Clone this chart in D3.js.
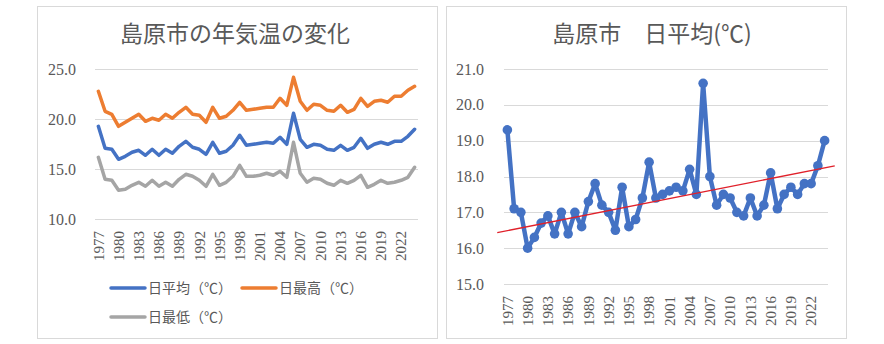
<!DOCTYPE html>
<html><head><meta charset="utf-8">
<script src="https://cdn.jsdelivr.net/npm/d3@7"></script>
<style>html,body{margin:0;padding:0;background:#fff;}svg{display:block;}</style>
</head><body>
<svg id="chart" width="884" height="344"></svg>
<script>
const years = [1977,1978,1979,1980,1981,1982,1983,1984,1985,1986,1987,1988,1989,1990,1991,1992,1993,1994,1995,1996,1997,1998,1999,2000,2001,2002,2003,2004,2005,2006,2007,2008,2009,2010,2011,2012,2013,2014,2015,2016,2017,2018,2019,2020,2021,2022,2023,2024];
const avgTemp = [19.3,17.1,17.0,16.0,16.3,16.7,16.9,16.4,17.0,16.4,17.0,16.6,17.3,17.8,17.2,17.0,16.5,17.7,16.6,16.8,17.4,18.4,17.4,17.5,17.6,17.7,17.6,18.2,17.5,20.6,18.0,17.2,17.5,17.4,17.0,16.9,17.4,16.9,17.2,18.1,17.1,17.5,17.7,17.5,17.8,17.8,18.3,19.0];
const maxTemp = [22.8,20.8,20.5,19.3,19.7,20.1,20.5,19.8,20.1,19.9,20.5,20.1,20.7,21.2,20.5,20.4,19.7,21.2,20.1,20.3,20.9,21.7,20.9,21.0,21.1,21.2,21.2,22.1,21.4,24.2,21.8,20.9,21.5,21.4,20.9,20.8,21.4,20.7,21.0,22.1,21.3,21.8,21.9,21.7,22.3,22.3,22.9,23.3];
const minTemp = [16.2,14.0,13.9,12.9,13.0,13.4,13.7,13.3,13.9,13.3,13.7,13.3,14.0,14.5,14.3,13.9,13.3,14.5,13.4,13.7,14.3,15.4,14.3,14.3,14.4,14.6,14.4,14.8,14.2,17.7,14.6,13.7,14.1,14.0,13.6,13.4,13.9,13.6,13.9,14.4,13.2,13.5,13.9,13.6,13.7,13.9,14.2,15.2];
// trendline as drawn in the reference: value at first and last category
const trendFirst = 16.49;   // at 1977
const trendLast = 18.24;    // at 2024
const trendExtend = 1.5;    // categories extended on each side
const yearTickLabels = ["1977","1980","1983","1986","1989","1992","1995","1998","2001","2004","2007","2010","2013","2016","2019","2022"];
const leftYTicks = [10,15,20,25];
const rightYTicks = [15,16,17,18,19,20,21];
const seriesNames = ["日平均（℃）","日最高（℃）","日最低（℃）"];
const seriesColors = ["#4472C4","#ED7D31","#A5A5A5"];
const leftTitle = "島原市の年気温の変化";
const rightTitle = "島原市　日平均(℃)";

const svg = d3.select("#chart");
const TXT = "#595959", GRID = "#d9d9d9";
const serif = "'Liberation Serif','DejaVu Serif',serif";
const cjk = "'Noto Sans CJK JP','Noto Sans',sans-serif";

[[37.5,6.5],[446.5,6.5]].forEach(([x,y]) => {
  svg.append("rect").attr("x",x).attr("y",y).attr("width",400).attr("height",332)
    .attr("fill","#fff").attr("stroke",GRID).attr("stroke-width",1);
});

function yearAxis(g, xb, yTop) {
  const tickSet = new Set(yearTickLabels);
  years.filter(y => tickSet.has(String(y))).forEach(y => {
    const cx = xb(y) + xb.bandwidth()/2;
    g.append("text").attr("transform",`translate(${cx},${yTop}) rotate(-90)`)
      .attr("text-anchor","end").attr("dy","0.35em")
      .attr("font-family",serif).attr("font-size",15).attr("fill",TXT)
      .text(y);
  });
}

function yAxis(g, ys, ticks, x0, x1, labelX) {
  ticks.forEach(t => {
    g.append("line").attr("x1",x0).attr("x2",x1)
      .attr("y1",Math.round(ys(t))+0.5).attr("y2",Math.round(ys(t))+0.5)
      .attr("stroke",GRID).attr("stroke-width",1);
    g.append("text").attr("x",labelX).attr("y",ys(t)).attr("dy","0.35em")
      .attr("text-anchor","end").attr("font-family",serif).attr("font-size",16)
      .attr("fill",TXT).text(d3.format(".1f")(t));
  });
}

// ---------- Left chart ----------
const gL = svg.append("g");
gL.append("text").attr("x",235).attr("y",34).attr("dy","0.35em").attr("text-anchor","middle")
  .attr("font-family",cjk).attr("font-size",23).attr("fill",TXT).text(leftTitle);
const xL = d3.scaleBand().domain(years).range([95,418]);
const yL = d3.scaleLinear().domain([10,25]).range([219.3,69.3]);
yAxis(gL, yL, leftYTicks, 95, 418, 76);
yearAxis(gL, xL, 231);
const lineL = d3.line().x((d,i) => xL(years[i]) + xL.bandwidth()/2).y(d => yL(d));
[[maxTemp,1],[avgTemp,0],[minTemp,2]].forEach(([s,k]) => {
  gL.append("path").datum(s).attr("d",lineL).attr("fill","none")
    .attr("stroke",seriesColors[k]).attr("stroke-width",3.5).attr("stroke-linejoin","round").attr("stroke-linecap","round");
});
const legendPos = [[111,288],[242,288],[111,317]];
seriesNames.forEach((n,i) => {
  const [lx,ly] = legendPos[i];
  gL.append("line").attr("x1",lx).attr("x2",lx+34).attr("y1",ly).attr("y2",ly)
    .attr("stroke",seriesColors[i]).attr("stroke-width",3.5).attr("stroke-linecap","round");
  gL.append("text").attr("x",lx+37).attr("y",ly).attr("dy","0.35em")
    .attr("font-family",cjk).attr("font-size",14).attr("fill",TXT).text(n);
});

// ---------- Right chart ----------
const gR = svg.append("g");
gR.append("text").attr("x",652).attr("y",34).attr("dy","0.35em").attr("text-anchor","middle")
  .attr("font-family",cjk).attr("font-size",23).attr("fill",TXT).text(rightTitle);
const xR = d3.scaleBand().domain(years).range([504,828]);
const yR = d3.scaleLinear().domain([15,21]).range([284,69]);
yAxis(gR, yR, rightYTicks, 504, 828, 484);
yearAxis(gR, xR, 296);
const cxR = (d,i) => xR(years[i]) + xR.bandwidth()/2;
gR.append("path").datum(avgTemp)
  .attr("d", d3.line().x(cxR).y(d => yR(d)))
  .attr("fill","none").attr("stroke",seriesColors[0]).attr("stroke-width",4.5).attr("stroke-linejoin","round");
gR.selectAll("circle").data(avgTemp).join("circle")
  .attr("cx",cxR).attr("cy",d => yR(d)).attr("r",4.8).attr("fill",seriesColors[0]);
// linear trendline
const n = years.length;
const xi = d3.scaleLinear().domain([-0.5, n-0.5]).range([504,828]);
const trendVal = d3.scaleLinear().domain([0, n-1]).range([trendFirst, trendLast]);
gR.append("line")
  .attr("x1",xi(-trendExtend)).attr("x2",xi(n-1+trendExtend))
  .attr("y1",yR(trendVal(-trendExtend))).attr("y2",yR(trendVal(n-1+trendExtend)))
  .attr("stroke","#E0202A").attr("stroke-width",1.3);
</script>
</body></html>
